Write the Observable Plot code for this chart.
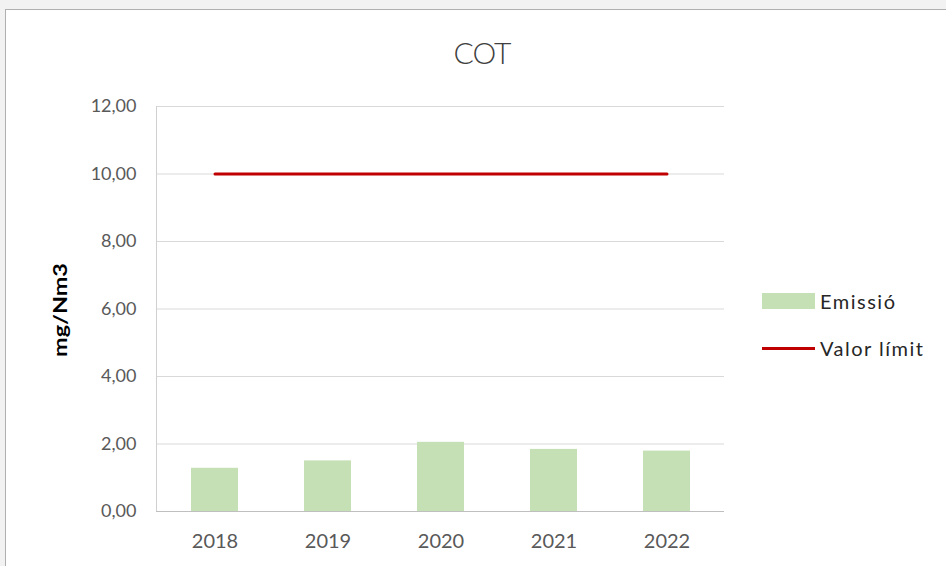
<!DOCTYPE html>
<html><head><meta charset="utf-8">
<script src="https://cdn.jsdelivr.net/npm/d3@7"></script>
<script src="https://cdn.jsdelivr.net/npm/@observablehq/plot@0.6"></script>
<style>
html,body{margin:0;padding:0;background:#f2f2f2;}
#wrap{position:relative;width:946px;height:566px;overflow:hidden;font-family:Lato,"Open Sans",sans-serif;}
#box{position:absolute;left:5px;top:9px;width:960px;height:580px;background:#fff;border:1px solid #b0b0b0;}
#chart{position:absolute;left:0;top:0;}
#title{position:absolute;left:382px;width:200px;top:37px;text-align:center;font-size:30px;line-height:30px;letter-spacing:-1px;font-weight:300;color:#404040;}
.leg{position:absolute;left:762px;font-size:20px;line-height:20px;letter-spacing:1.5px;color:#262626;display:flex;align-items:center;}
.sw{width:53px;height:16px;background:#c5e0b4;margin-right:5px;}
.ln{width:53px;height:3px;background:#c00000;margin-right:5px;}
#ylab{position:absolute;left:60px;top:310px;transform:translate(-50%,-50%) rotate(-90deg) scaleX(1.3);font-size:18px;line-height:18px;font-weight:bold;color:#000;white-space:nowrap;}
</style></head>
<body><div id="wrap"><div id="box"></div><div id="chart"></div>
<div id="title">COT</div>
<div id="ylab">mg/Nm3</div>
<div class="leg" style="top:291px"><div class="sw"></div>Emissió</div>
<div class="leg" style="top:338px"><div class="ln"></div>Valor límit</div>
</div>
<script>
const years = ["2018","2019","2020","2021","2022"];
const emissio = [1.28, 1.50, 2.05, 1.84, 1.79];
const valorLimit = [10, 10, 10, 10, 10];
const yTicks = [0, 2, 4, 6, 8, 10, 12];

const bars = years.map((y, i) => ({year: y, value: emissio[i]}));
const limit = years.map((y, i) => ({year: y, value: valorLimit[i]}));
const fmt = d => d3.format(".2f")(d).replace(".", ",");

const chart = Plot.plot({
  width: 946, height: 566,
  marginLeft: 156, marginRight: 222, marginTop: 106, marginBottom: 55,
  style: {background: "transparent", fontFamily: "Lato, 'Open Sans', sans-serif", color: "#595959"},
  x: {domain: years, paddingInner: 0.586, paddingOuter: 0.293, label: null},
  y: {domain: [0, 12], label: null},
  marks: [
    Plot.ruleY(yTicks.filter(d => d > 0), {stroke: "#d9d9d9", strokeWidth: 1}),
    Plot.frame({anchor: "left", stroke: "#d0d0d0"}),
    Plot.barY(bars, {x: "year", y: "value", fill: "#c5e0b4"}),
    Plot.ruleY([0], {stroke: "#bfbfbf", strokeWidth: 1}),
    Plot.lineY(limit, {x: "year", y: "value", stroke: "#c00000", strokeWidth: 3}),
    Plot.axisY({ticks: yTicks, tickFormat: fmt, tickSize: 0, tickPadding: 20, label: null, fill: "#595959", fontSize: 18, style: {letterSpacing: "1px"}}),
    Plot.axisX({tickSize: 0, tickPadding: 22, label: null, fill: "#595959", fontSize: 20})
  ]
});
document.getElementById("chart").appendChild(chart);
</script>
</body></html>
